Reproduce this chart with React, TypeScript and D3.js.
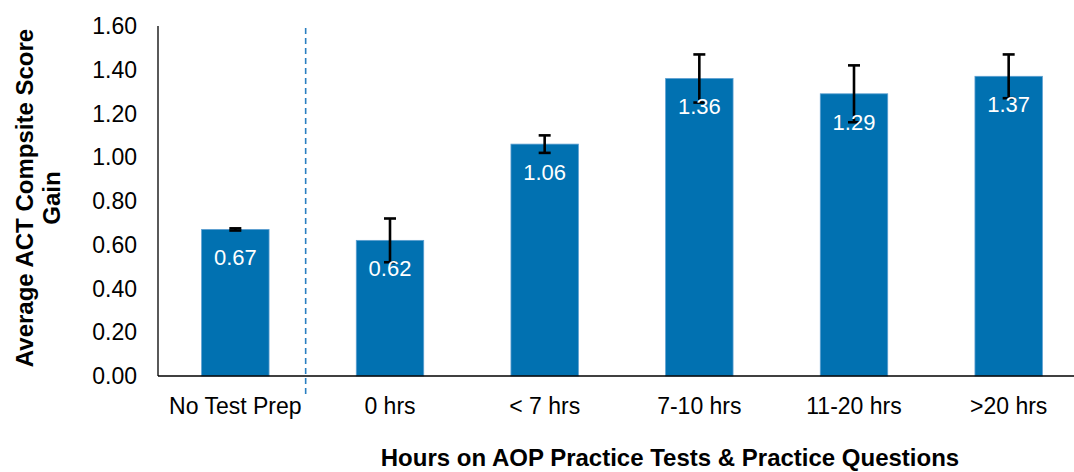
import { useRef, useEffect } from 'react'
import * as d3 from 'd3'

const categories = ['No Test Prep', '0 hrs', '< 7 hrs', '7-10 hrs', '11-20 hrs', '>20 hrs']
const gains = [0.67, 0.62, 1.06, 1.36, 1.29, 1.37]
const errors = [0.005, 0.1, 0.04, 0.11, 0.13, 0.1]
const yTicks = [0, 0.2, 0.4, 0.6, 0.8, 1.0, 1.2, 1.4, 1.6]

const FONT = '"Liberation Sans", Arial, sans-serif'
const BAR_FILL = '#0171b1'

export default function App() {
  const containerRef = useRef<HTMLDivElement>(null)

  useEffect(() => {
    document.body.style.margin = '0'
    if (!containerRef.current) return

    d3.select(containerRef.current).selectAll('*').remove()

    const width = 1074
    const height = 472
    const left = 158
    const top = 26
    const bottom = 376

    const svg = d3
      .select(containerRef.current)
      .append('svg')
      .attr('width', width)
      .attr('height', height)
      .style('display', 'block')
      .style('font-family', FONT)

    // chart is clipped on the right in the original, band step ~154.7px
    const x = d3.scaleBand<string>().domain(categories).range([left, left + 928]).padding(0)
    const y = d3.scaleLinear().domain([0, 1.6]).range([bottom, top])
    const barW = x.bandwidth() * 0.436

    // Y axis line
    svg
      .append('line')
      .attr('x1', left)
      .attr('x2', left)
      .attr('y1', y(1.6))
      .attr('y2', y(0))
      .attr('stroke', '#000')
      .attr('stroke-width', 1.3)

    // Y tick labels
    svg
      .append('g')
      .selectAll('text')
      .data(yTicks)
      .join('text')
      .attr('x', left - 21)
      .attr('y', (d) => y(d))
      .attr('dy', '0.35em')
      .attr('text-anchor', 'end')
      .attr('font-size', '23px')
      .attr('fill', '#000')
      .text((d) => d.toFixed(2))

    // Bars
    svg
      .append('g')
      .selectAll('rect')
      .data(gains)
      .join('rect')
      .attr('x', (_, i) => x(categories[i])! + (x.bandwidth() - barW) / 2)
      .attr('y', (d) => y(d))
      .attr('width', barW)
      .attr('height', (d) => y(0) - y(d))
      .attr('fill', BAR_FILL)
      .attr('stroke', '#5c9fd0')
      .attr('stroke-width', 0.8)

    // Error bars
    const errG = svg.append('g').attr('stroke', '#000').attr('stroke-width', 2.6)
    gains.forEach((g, i) => {
      const cx = x(categories[i])! + x.bandwidth() / 2
      const hi = y(g + errors[i])
      const lo = y(g - errors[i])
      errG.append('line').attr('x1', cx).attr('x2', cx).attr('y1', hi).attr('y2', lo)
      errG.append('line').attr('x1', cx - 6).attr('x2', cx + 6).attr('y1', hi).attr('y2', hi)
      errG.append('line').attr('x1', cx - 6).attr('x2', cx + 6).attr('y1', lo).attr('y2', lo)
    })

    // Value labels
    svg
      .append('g')
      .selectAll('text')
      .data(gains)
      .join('text')
      .attr('x', (_, i) => x(categories[i])! + x.bandwidth() / 2)
      .attr('y', (d) => y(d) + 28)
      .attr('dy', '0.35em')
      .attr('text-anchor', 'middle')
      .attr('font-size', '22px')
      .attr('fill', '#fff')
      .text((d) => d.toFixed(2))

    // X axis line
    svg
      .append('line')
      .attr('x1', left)
      .attr('x2', width)
      .attr('y1', y(0))
      .attr('y2', y(0))
      .attr('stroke', '#000')
      .attr('stroke-width', 1.3)

    // Separator between no-prep and AOP groups
    const sepX = x(categories[1])! - 7
    svg
      .append('line')
      .attr('x1', sepX)
      .attr('x2', sepX)
      .attr('y1', y(1.6) + 2)
      .attr('y2', y(0) + 18)
      .attr('stroke', '#2a7fc0')
      .attr('stroke-width', 1.6)
      .attr('stroke-dasharray', '6,4')

    // Category labels
    svg
      .append('g')
      .selectAll('text')
      .data(categories)
      .join('text')
      .attr('x', (d) => x(d)! + x.bandwidth() / 2)
      .attr('y', y(0) + 30)
      .attr('dy', '0.35em')
      .attr('text-anchor', 'middle')
      .attr('font-size', '23px')
      .attr('fill', '#000')
      .text((d) => d)

    // Axis titles
    svg
      .append('text')
      .attr('x', 670)
      .attr('y', 466)
      .attr('text-anchor', 'middle')
      .attr('font-size', '24px')
      .attr('font-weight', 'bold')
      .text('Hours on AOP Practice Tests & Practice Questions')

    const yTitle = svg
      .append('text')
      .attr('transform', 'translate(0,198) rotate(-90)')
      .attr('text-anchor', 'middle')
      .attr('font-size', '24px')
      .attr('font-weight', 'bold')
    yTitle.append('tspan').attr('x', 0).attr('y', 33).text('Average ACT Compsite Score')
    yTitle.append('tspan').attr('x', 0).attr('y', 60).text('Gain')
  }, [])

  return <div ref={containerRef} style={{ width: 1074, height: 472 }} />
}
